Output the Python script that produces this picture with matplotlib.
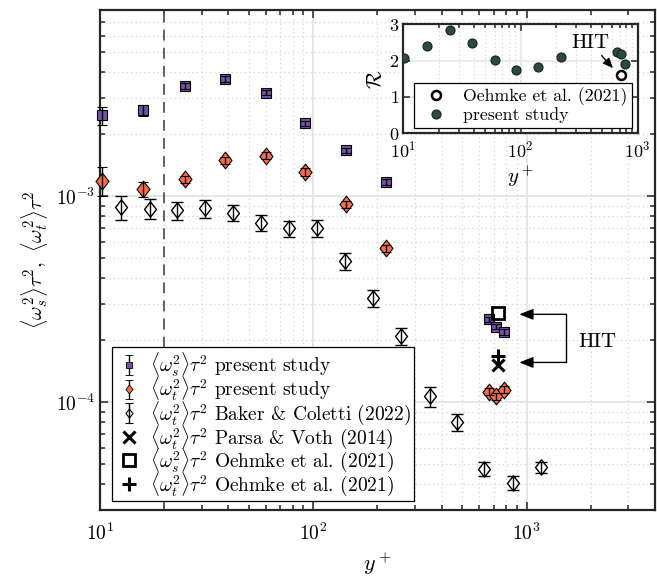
import numpy as np
import matplotlib
matplotlib.use("Agg")
import matplotlib.pyplot as plt
from matplotlib.path import Path
from matplotlib.ticker import LogLocator, NullFormatter, FixedLocator

plt.rcParams['font.family'] = 'serif'
plt.rcParams['font.serif'] = ['cmr10']
plt.rcParams['mathtext.fontset'] = 'cm'
plt.rcParams['axes.formatter.use_mathtext'] = True

# ---- data ----
yplus_present = [10.2, 16, 25, 38.5, 60, 92, 142, 220, 670, 720, 780]
ws_present = [2.47e-3, 2.61e-3, 3.42e-3, 3.70e-3, 3.18e-3, 2.26e-3, 1.67e-3, 1.17e-3, 2.53e-4, 2.33e-4, 2.19e-4]
ws_err_rel = [0.10, 0.06, 0.03, 0.03, 0.03, 0.03, 0.03, 0.03, 0.03, 0.03, 0.03]
wt_present = [1.19e-3, 1.08e-3, 1.21e-3, 1.49e-3, 1.57e-3, 1.31e-3, 9.15e-4, 5.58e-4, 1.127e-4, 1.067e-4, 1.15e-4]
wt_err_rel = [0.16, 0.08, 0.04, 0.04, 0.04, 0.04, 0.04, 0.04, 0.04, 0.04, 0.04]

yplus_baker = [12.6, 17.1, 23.1, 31.2, 42.2, 56.9, 77.1, 104.6, 141, 191, 259, 351, 473, 635, 861, 1167]
wt_baker = [8.82e-4, 8.68e-4, 8.53e-4, 8.72e-4, 8.30e-4, 7.43e-4, 6.97e-4, 7.0e-4, 4.84e-4,
            3.2e-4, 2.1e-4, 1.07e-4, 8.0e-5, 4.75e-5, 4.06e-5, 4.83e-5]
baker_err_rel = [0.13, 0.11, 0.10, 0.10, 0.09, 0.09, 0.09, 0.09, 0.09, 0.09, 0.095, 0.11, 0.09, 0.075, 0.08, 0.06]

yplus_parsa = [733]
wt_parsa = [1.51e-4]
yplus_oehmke = [738]
ws_oehmke = [2.72e-4]
wt_oehmke = [1.68e-4]

# inset: ratio R
R_present = [2.08, 2.41, 2.83, 2.49, 2.03, 1.73, 1.83, 2.10, 2.24, 2.17, 1.92]
yplus_oehmke_R = [726]
R_oehmke = [1.61]

purple = '#7652a6'
orange = '#fd6b47'
dark = '#2c4a45'

# taller-than-wide diamond like matlab's
diamond = Path([(0, 1), (0.78, 0), (0, -1), (-0.78, 0), (0, 1)], closed=True)

fig = plt.figure(figsize=(6.57, 5.76), dpi=100)
ax = fig.add_axes([0.152, 0.1146, 0.845, 0.868])
ax.set_xscale('log')
ax.set_yscale('log')
ax.set_xlim(10, 4000)
ax.set_ylim(3e-5, 8e-3)

ax.axvline(20, color='#555555', ls=(0, (6, 4)), lw=1.3, zorder=1)

ws_err = np.array(ws_present) * np.array(ws_err_rel)
wt_err = np.array(wt_present) * np.array(wt_err_rel)
bk_err = np.array(wt_baker) * np.array(baker_err_rel)

ax.errorbar(yplus_baker, wt_baker, yerr=bk_err, fmt='none', ecolor='k', elinewidth=1,
            capsize=4, capthick=1, zorder=3)
ax.plot(yplus_baker, wt_baker, ls='none', marker=diamond, ms=11, mfc='none', mec='k', mew=1, zorder=3)

ax.errorbar(yplus_present, ws_present, yerr=ws_err, fmt='s', ms=7.5, mfc=purple, mec='k', mew=0.8,
            ecolor='k', elinewidth=1, capsize=3.5, capthick=1, barsabove=True, zorder=4, clip_on=False)
ax.errorbar(yplus_present, wt_present, yerr=wt_err, ls='none', marker=diamond, ms=12, mfc=orange,
            mec='k', mew=0.8, ecolor='k', elinewidth=1, capsize=3.5, capthick=1, barsabove=True,
            zorder=4, clip_on=False)

hp, = ax.plot(yplus_parsa, wt_parsa, 'x', ms=8, mec='k', mew=2.2, zorder=5)
hos, = ax.plot(yplus_oehmke, ws_oehmke, 's', ms=9, mfc='none', mec='k', mew=2, zorder=5)
hot, = ax.plot(yplus_oehmke, wt_oehmke, '+', ms=10, mec='k', mew=2.2, zorder=5)

# legend proxies with small markers
h1 = ax.errorbar([np.nan], [np.nan], yerr=[np.nan], fmt='s', ms=4.5, mfc=purple, mec='k', mew=0.6,
                 ecolor='k', elinewidth=1, capsize=3, capthick=1)
h2 = ax.errorbar([np.nan], [np.nan], yerr=[np.nan], ls='none', marker=diamond, ms=6.5, mfc=orange, mec='k',
                 mew=0.6, ecolor='k', elinewidth=1, capsize=3, capthick=1)
h3 = ax.errorbar([np.nan], [np.nan], yerr=[np.nan], ls='none', marker=diamond, ms=6.5, mfc='none', mec='k',
                 mew=0.8, ecolor='k', elinewidth=1, capsize=3, capthick=1)

labels = [r'$\langle\omega_s^2\rangle\tau^2$ present study',
          r'$\langle\omega_t^2\rangle\tau^2$ present study',
          r'$\langle\omega_t^2\rangle\tau^2$ Baker & Coletti (2022)',
          r'$\langle\omega_t^2\rangle\tau^2$ Parsa & Voth (2014)',
          r'$\langle\omega_s^2\rangle\tau^2$ Oehmke et al. (2021)',
          r'$\langle\omega_t^2\rangle\tau^2$ Oehmke et al. (2021)']
leg = ax.legend([h1, h2, h3, hp, hos, hot], labels, loc='lower left', bbox_to_anchor=(0.021, 0.018),
                borderaxespad=0, fontsize=14, fancybox=False, edgecolor='k', framealpha=1,
                handlelength=1.5, handletextpad=0.35, labelspacing=-0.2, borderpad=0.15)
leg.get_frame().set_linewidth(0.9)

# HIT bracket
y_top, y_bot = 2.67e-4, 1.56e-4
x_tip, x_br = 925, 1525
ax.plot([x_br, x_br], [y_top, y_bot], color='k', lw=1)
for yy in (y_top, y_bot):
    ax.annotate('', xy=(x_tip, yy), xytext=(x_br, yy),
                arrowprops=dict(arrowstyle='-|>,head_length=0.7,head_width=0.28', color='k', lw=1,
                                shrinkA=0, shrinkB=0, mutation_scale=12))
ax.text(2142, 1.95e-4, 'HIT', fontsize=15, ha='center', va='center')

ax.xaxis.set_major_locator(LogLocator(10))
ax.xaxis.set_minor_locator(LogLocator(10, subs=np.arange(2, 10)))
ax.yaxis.set_major_locator(LogLocator(10))
ax.yaxis.set_minor_locator(LogLocator(10, subs=np.arange(2, 10)))
ax.xaxis.set_minor_formatter(NullFormatter())
ax.yaxis.set_minor_formatter(NullFormatter())

ax.tick_params(which='both', direction='in', top=True, right=True, width=1.1, colors='#262626')
ax.tick_params(which='major', length=6, labelsize=14, labelcolor='k')
ax.tick_params(axis='x', which='major', pad=9)
ax.tick_params(which='minor', length=3.5)
ax.grid(which='major', color='#e4e4e4', lw=1.3, ls='-')
ax.grid(which='minor', color='#d6d6d6', lw=0.9, ls=(0, (1, 2.5)))
ax.set_axisbelow(True)
for s in ax.spines.values():
    s.set_linewidth(1.6)
    s.set_color('#262626')

ax.set_xlabel('$y^+$', fontsize=16, labelpad=5)
ax.set_ylabel(r'$\langle\omega_s^2\rangle\tau^2,\ \langle\omega_t^2\rangle\tau^2$', fontsize=15, labelpad=4)

# ---- inset ----
axin = fig.add_axes([0.614, 0.7686, 0.3567, 0.1892])
axin.set_xscale('log')
axin.set_xlim(10, 1000)
axin.set_ylim(0, 3)
hpr, = axin.plot(yplus_present, R_present, 'o', ms=6.5, mfc=dark, mec='#16201e', mew=0.8, zorder=3)
hor, = axin.plot(yplus_oehmke_R, R_oehmke, 'o', ms=6.5, mfc='white', mec='k', mew=1.8, zorder=3)
leg2 = axin.legend([hor, hpr], ['Oehmke et al. (2021)', 'present study'], loc='lower left',
                   bbox_to_anchor=(0.046, 0.051), borderaxespad=0, fontsize=12.8, fancybox=False,
                   edgecolor='k', framealpha=1, handlelength=1.9, handletextpad=0.6,
                   labelspacing=0.1, borderpad=0.25)
leg2.get_frame().set_linewidth(0.9)
axin.annotate('HIT', xy=(615, 1.79), xytext=(392, 2.49), ha='center', va='center', fontsize=15,
              arrowprops=dict(arrowstyle='-|>,head_length=0.6,head_width=0.25', color='k', lw=1,
                              shrinkA=1, shrinkB=0, mutation_scale=10))

axin.xaxis.set_major_locator(LogLocator(10))
axin.xaxis.set_minor_locator(LogLocator(10, subs=np.arange(2, 10)))
axin.xaxis.set_minor_formatter(NullFormatter())
axin.yaxis.set_major_locator(FixedLocator([0, 1, 2, 3]))
axin.tick_params(which='both', direction='in', top=True, right=True, width=1.1, colors='#262626')
axin.tick_params(which='major', length=5, labelsize=13, labelcolor='k', pad=3)
axin.tick_params(axis='x', which='major', pad=5)
axin.tick_params(which='minor', length=3)
axin.grid(which='major', color='#e4e4e4', lw=1.1, ls='-')
axin.grid(which='minor', color='#d6d6d6', lw=0.8, ls=(0, (1, 2.5)))
axin.set_axisbelow(True)
for s in axin.spines.values():
    s.set_linewidth(1.6)
    s.set_color('#262626')
axin.set_xlabel('$y^+$', fontsize=15, labelpad=2)
axin.set_ylabel(r'$\mathcal{R}$', fontsize=15, labelpad=2)

fig.savefig('out.png', dpi=100)
